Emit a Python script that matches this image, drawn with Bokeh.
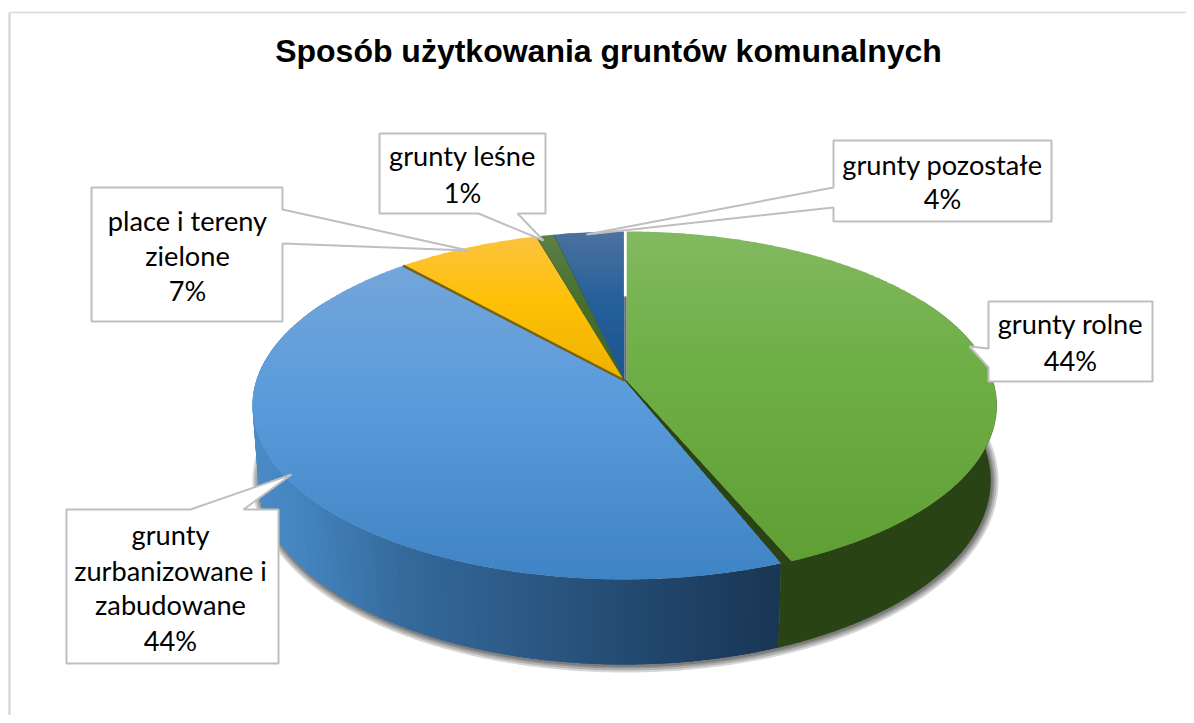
import math
from bokeh.plotting import figure
from bokeh.embed import file_html
from bokeh.resources import INLINE
from bokeh.core.properties import value

# ---- data ----
categories = ["grunty rolne", "grunty zurbanizowane i zabudowane", "place i tereny zielone", "grunty leśne", "grunty pozostałe"]
shares = [44.0, 44.4, 7.2, 0.9, 3.5]
title_text = "Sposób użytkowania gruntów komunalnych"
label_lines = [
    ["grunty rolne", "44%"],
    ["grunty", "zurbanizowane i", "zabudowane", "44%"],
    ["place i tereny", "zielone", "7%"],
    ["grunty leśne", "1%"],
    ["grunty pozostałe", "4%"],
]

# ---- layout and style ----
W, H = 1186, 715
CX, TOP_CY, TOP_RX, TOP_RY = 624, 405, 372, 174
BOT_CY, BOT_RX, BOT_RY = 480, 366, 184
PERSP = 0.1437
FONT = "Lato"
FONT_SIZE = "27.2px"
LABEL_X = [1070, 170, 187, 462, 942]
LABEL_Y = [[323, 360], [534, 570, 604, 640], [220, 255, 290], [155, 192], [164, 198]]
CALLOUTS = [
    [(988, 301), (1152, 301), (1152, 381), (988, 381), (988, 367), (969, 346), (988, 348)],
    [(66, 509), (190, 509), (291, 474), (243, 509), (278, 509), (278, 663), (66, 663)],
    [(91, 187), (282, 187), (282, 209), (468, 250), (282, 243), (282, 321), (91, 321)],
    [(379, 133), (545, 133), (545, 213), (517, 213), (543, 240), (478, 213), (379, 213)],
    [(833, 140), (1051, 140), (1051, 221), (833, 221), (833, 207), (586, 234), (833, 187)],
]
FACE_STOPS = [
    [(231, "#83b961"), (350, "#70b048"), (560, "#5f9f34")],
    [(265, "#74a6da"), (400, "#5a9bdb"), (575, "#3f84c4")],
    [(238, "#fdc23c"), (300, "#fec107"), (380, "#eeb200")],
    [(236, "#5c7f48"), (300, "#47702f"), (380, "#3c6526")],
    [(232, "#4c719f"), (300, "#25609a"), (380, "#1b5590")],
]
BLUE_WALL = [(255, "#4c8bc6"), (300, "#4484bf"), (400, "#356a9b"), (640, "#22486e"), (782, "#193552")]
GREEN_WALL = "#2a4315"


def hex2rgb(h):
    return [int(h[i:i + 2], 16) for i in (1, 3, 5)]


def ramp(stops, t):
    if t <= stops[0][0]:
        return stops[0][1]
    for (a, ca), (b, cb) in zip(stops, stops[1:]):
        if t <= b:
            f = (t - a) / (b - a)
            ra, rb = hex2rgb(ca), hex2rgb(cb)
            return "#%02x%02x%02x" % tuple(round(x + (y - x) * f) for x, y in zip(ra, rb))
    return stops[-1][1]


def rim(deg, cy=TOP_CY, rx=TOP_RX, ry=TOP_RY, dx=0):
    u, v = math.sin(math.radians(deg)), math.cos(math.radians(deg))
    a = rx * math.sqrt(1 - PERSP ** 2)
    den = 1 + PERSP * v
    return CX + dx + a * u / den, cy - (ry * v + ry * PERSP) / den


def bot(deg):
    return rim(deg, BOT_CY, BOT_RX, BOT_RY)


APEX = (CX, TOP_CY - TOP_RY * PERSP)


def clip(poly, y0, y1):
    def half(pts, keep, cross):
        out = []
        for i, p in enumerate(pts):
            q = pts[(i + 1) % len(pts)]
            if keep(p):
                out.append(p)
            if keep(p) != keep(q):
                f = (cross - p[1]) / (q[1] - p[1])
                out.append((p[0] + f * (q[0] - p[0]), cross))
        return out
    res = half(poly, lambda p: p[1] >= y0, y0)
    if res:
        res = half(res, lambda p: p[1] <= y1, y1)
    return res


def arc(a, b, fn=rim, **kw):
    n = max(2, int(abs(b - a) * 2))
    return [fn(a + (b - a) * i / n, **kw) for i in range(n + 1)]


edges = [0]
for s in shares:
    edges.append(edges[-1] + s * 360.0 / sum(shares))

p = figure(width=W, height=H, x_range=(0, W), y_range=(H, 0), output_backend="svg",
           toolbar_location=None, min_border=0, outline_line_color=None)
p.axis.visible = False
p.grid.visible = False
p.background_fill_color = "white"
p.border_fill_color = "white"

# chart frame
p.line([9, 9], [12, H], line_color="#d9d9d9", line_width=2.5)
p.line([9, W], [12, 12], line_color="#d9d9d9", line_width=1.5)

# soft shadow under the wall
shadow = arc(60, 300, fn=bot)
for w in (14, 10, 6, 3):
    p.line([q[0] + 1 for q in shadow], [q[1] + 1 for q in shadow], line_color="#000000", line_alpha=0.16, line_width=w)

# walls: blue as overlapping strips painted from the far end, green as one shape
wall_xs, wall_ys, wall_cols = [], [], []
d = 300.0
while d > edges[1]:
    e = max(d - 2.5, edges[1])
    a1, a2, b1, b2 = rim(d), rim(e), bot(d), bot(e)
    wall_xs.append([a1[0], a2[0], b2[0], b1[0]])
    wall_ys.append([a1[1], a2[1], b2[1], b1[1]])
    wall_cols.append(ramp(BLUE_WALL, (a1[0] + b1[0]) / 2))
    d -= 1.0
p.patches(wall_xs, wall_ys, fill_color=wall_cols, line_color=None)

top_g, bot_g = arc(60, edges[1]), arc(60, edges[1], fn=bot)
outline = top_g + bot_g[::-1]
p.patch([q[0] for q in outline], [q[1] for q in outline], fill_color=GREEN_WALL, line_color=GREEN_WALL, line_width=0.5)

# inner wall visible between blue and green
GAP = 1.4
GREEN_DX = 2
GREEN_RX = 370
gc, bc = rim(edges[1] - GAP, rx=GREEN_RX, dx=GREEN_DX), rim(edges[1])
p.patch([APEX[0], bc[0], gc[0], APEX[0] + GREEN_DX], [APEX[1], bc[1], gc[1], APEX[1]],
        fill_color=GREEN_WALL, line_color=GREEN_WALL, line_width=1)

# top faces (drawn band by band to make the vertical gradient)
BAND = 3
order = [1, 2, 3, 4, 0]
for i in order:
    if i == 0:
        poly = [(APEX[0] + GREEN_DX, APEX[1])] + arc(edges[0], edges[1] - GAP, rx=GREEN_RX, dx=GREEN_DX)
    else:
        poly = [APEX] + arc(edges[i], edges[i + 1])
    xs, ys, cs = [], [], []
    y = int(min(q[1] for q in poly))
    ymax = max(q[1] for q in poly)
    while y < ymax:
        part = clip(poly, y, y + BAND + 0.6)
        if len(part) >= 3:
            xs.append([q[0] for q in part])
            ys.append([q[1] for q in part])
            cs.append(ramp(FACE_STOPS[i], y + BAND / 2))
        y += BAND
    p.patches(xs, ys, fill_color=cs, line_color=None)

# slice seams
seam_cols = [None, "#6b5a12", "#4a5c18", "#2f5a3a"]
for k in (2, 3, 4):
    q = rim(edges[k])
    p.line([APEX[0], q[0]], [APEX[1], q[1]], line_color=seam_cols[k - 1],
           line_width=2.5 if k == 2 else 1, line_alpha=0.9)
# white gap and grey inner edge at the start of the first slice
p.line([APEX[0] + 0.7, APEX[0] + 0.7], [APEX[1] - 151, APEX[1] - 84], line_color="white", line_width=2.6)
p.line([APEX[0] + 1, APEX[0] + 1], [APEX[1] - 84, APEX[1]], line_color="#6a6a6a", line_width=2)

# callouts
p.patches([[q[0] for q in c] for c in CALLOUTS], [[q[1] for q in c] for c in CALLOUTS],
          fill_color="white", line_color="#bfbfbf", line_width=2)

# labels
for lines, x, ys in zip(label_lines, LABEL_X, LABEL_Y):
    p.text([x] * len(lines), ys, text=lines, text_align="center", text_baseline="middle",
           text_color="#000000", text_font=value(FONT), text_font_size=value(FONT_SIZE))

p.text([608], [50], text=[title_text], text_align="center", text_baseline="middle", text_color="#000000",
       text_font=value("Liberation Sans"), text_font_style="bold", text_font_size=value("32px"))

open("out.html", "w").write(file_html(p, INLINE))
